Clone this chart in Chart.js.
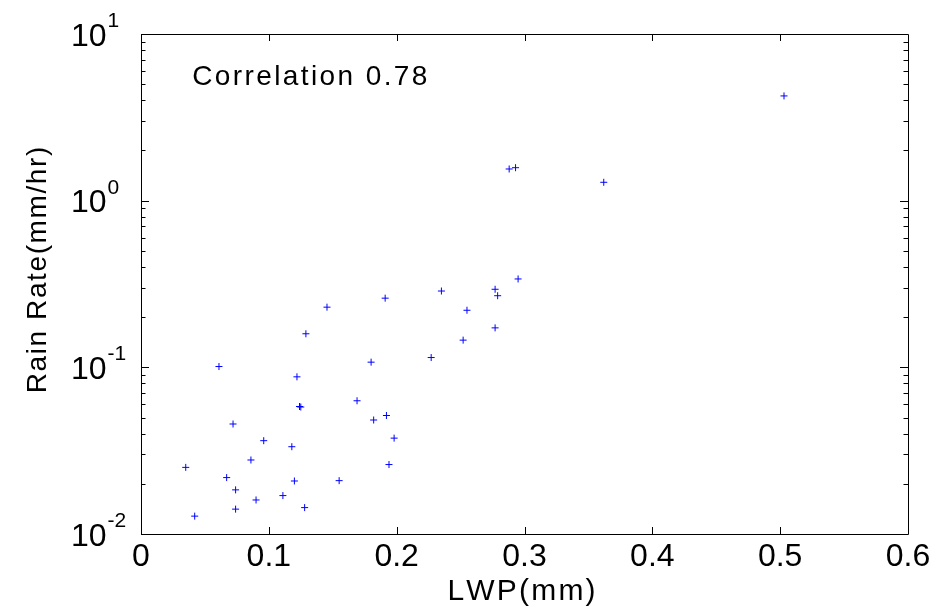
<!DOCTYPE html>
<html>
<head>
<meta charset="utf-8">
<script src="https://cdn.jsdelivr.net/npm/chart.js@4.4.1/dist/chart.umd.min.js"></script>
<style>
  html, body { margin: 0; padding: 0; background: #fff; }
  canvas { display: block; }
</style>
</head>
<body>
<canvas id="rainChart" width="947" height="608"></canvas>
<script>
// LWP (mm) vs rain rate (mm/hr)
const lwp = [
  0.035, 0.042, 0.072, 0.067, 0.074, 0.074, 0.086, 0.090, 0.096, 0.111,
  0.118, 0.120, 0.122, 0.124, 0.125, 0.128, 0.155, 0.169, 0.182, 0.192,
  0.198, 0.194, 0.061, 0.129, 0.1455, 0.191, 0.180, 0.362, 0.295, 0.235,
  0.277, 0.279, 0.255, 0.277, 0.252, 0.227, 0.503, 0.288, 0.293
]
const rainRate = [
  0.0251, 0.0128, 0.0457, 0.0218, 0.0184, 0.0141, 0.0278, 0.0160, 0.0363, 0.0170,
  0.0334, 0.0208, 0.0877, 0.0582, 0.0578, 0.0144, 0.0209, 0.0630, 0.0483, 0.0514,
  0.0376, 0.0261, 0.1011, 0.159, 0.2296, 0.260, 0.1074, 1.289, 0.339, 0.287,
  0.294, 0.269, 0.220, 0.1725, 0.1456, 0.1145, 4.25, 1.549, 1.577
]
const xTicks = [0, 0.1, 0.2, 0.3, 0.4, 0.5, 0.6]
const yTickExponents = [-2, -1, 0, 1]
const correlationLabel = 'Correlation 0.78'
const xTitle = 'LWP(mm)'
const yTitle = 'Rain Rate(mm/hr)'

const FONT = '"Liberation Sans", Arial, Helvetica, sans-serif'

// canvas letterSpacing isn't reliable here, so space the glyphs by hand
function spacedText (ctx, text, x, y, gap) {
  let cx = x
  for (const ch of text) {
    ctx.fillText(ch, cx, y)
    cx += ctx.measureText(ch).width + gap
  }
  return cx - gap - x
}

function spacedWidth (ctx, text, gap) {
  let w = 0
  for (const ch of text) w += ctx.measureText(ch).width + gap
  return w - gap
}

// matlab style: closed box, ticks pointing inwards, 10^n labels
const matlabAxes = {
  id: 'matlabAxes',
  afterDatasetsDraw (chart) {
    const { ctx, chartArea: a, scales: { x, y } } = chart
    ctx.save()
    ctx.strokeStyle = '#000'
    ctx.lineWidth = 1
    ctx.beginPath()
    ctx.rect(a.left + 0.5, a.top + 0.5, a.right - a.left, a.bottom - a.top)
    ctx.stroke()

    ctx.beginPath()
    xTicks.slice(1, -1).forEach(v => {
      const px = Math.round(x.getPixelForValue(v)) + 0.5
      ctx.moveTo(px, a.bottom)
      ctx.lineTo(px, a.bottom - 7)
      ctx.moveTo(px, a.top)
      ctx.lineTo(px, a.top + 7)
    })
    const lo = yTickExponents[0]
    const hi = yTickExponents[yTickExponents.length - 1]
    for (let e = lo; e <= hi; e++) {
      for (let m = 1; m <= 9; m++) {
        if (e === hi && m > 1) break
        const py = Math.round(y.getPixelForValue(m * Math.pow(10, e))) + 0.5
        const len = m === 1 ? 8 : 4.5
        ctx.moveTo(a.left, py)
        ctx.lineTo(a.left + len, py)
        ctx.moveTo(a.right, py)
        ctx.lineTo(a.right - len, py)
      }
    }
    ctx.stroke()
    ctx.restore()
  },
  afterDraw (chart) {
    const { ctx, chartArea: a, scales: { x, y } } = chart
    ctx.save()
    ctx.fillStyle = '#000'
    ctx.textAlign = 'left'
    ctx.textBaseline = 'alphabetic'
    yTickExponents.forEach(e => {
      const py = y.getPixelForValue(Math.pow(10, e))
      ctx.font = '32px ' + FONT
      ctx.fillText('10', 71, py + 11.5)
      const w = ctx.measureText('10').width
      ctx.font = '21px ' + FONT
      ctx.fillText(String(e), 71 + w + 1, py - 7)
    })

    // annotation
    ctx.font = '28px ' + FONT
    spacedText(ctx, correlationLabel, x.getPixelForValue(0.04), y.getPixelForValue(4.94), 2.4)

    // x label
    ctx.font = '30px ' + FONT
    const xw = spacedWidth(ctx, xTitle, 2.2)
    spacedText(ctx, xTitle, (a.left + a.right) / 2 - 3 - xw / 2, 600, 2.2)

    // y label, rotated, sits a bit above the middle of the axis
    ctx.font = '28px ' + FONT
    ctx.textBaseline = 'middle'
    const gap = 1.6
    const tw = spacedWidth(ctx, yTitle, gap)
    ctx.translate(38, (a.top + a.bottom) / 2 - 14)
    ctx.rotate(-Math.PI / 2)
    spacedText(ctx, yTitle, -tw / 2, 0, gap)
    ctx.restore()
  }
}

new Chart(document.getElementById('rainChart'), {
  type: 'scatter',
  data: {
    datasets: [{
      data: lwp.map((v, i) => ({ x: v, y: rainRate[i] })),
      pointStyle: 'cross',
      pointRadius: 3.5,
      pointBorderWidth: 1,
      borderColor: '#0000ff',
      backgroundColor: '#0000ff'
    }]
  },
  options: {
    responsive: false,
    animation: false,
    devicePixelRatio: 1,
    layout: { padding: { left: 0, right: 39, top: 34, bottom: 0 } },
    plugins: {
      legend: { display: false },
      tooltip: { enabled: false }
    },
    scales: {
      x: {
        type: 'linear',
        min: 0,
        max: 0.6,
        afterBuildTicks: (scale) => { scale.ticks = xTicks.map(v => ({ value: v })) },
        afterFit: (scale) => { scale.height = 74 },
        grid: { display: false, drawTicks: false },
        border: { display: false },
        ticks: {
          padding: 4,
          color: '#000',
          font: { family: FONT, size: 32 },
          callback: (v) => String(v)
        },
        title: { display: false, text: xTitle }
      },
      y: {
        type: 'logarithmic',
        min: 0.01,
        max: 10,
        afterFit: (scale) => { scale.width = 141 },
        grid: { display: false, drawTicks: false },
        border: { display: false },
        ticks: { display: false },
        title: { display: false, text: yTitle }
      }
    }
  },
  plugins: [matlabAxes]
})
</script>
</body>
</html>
